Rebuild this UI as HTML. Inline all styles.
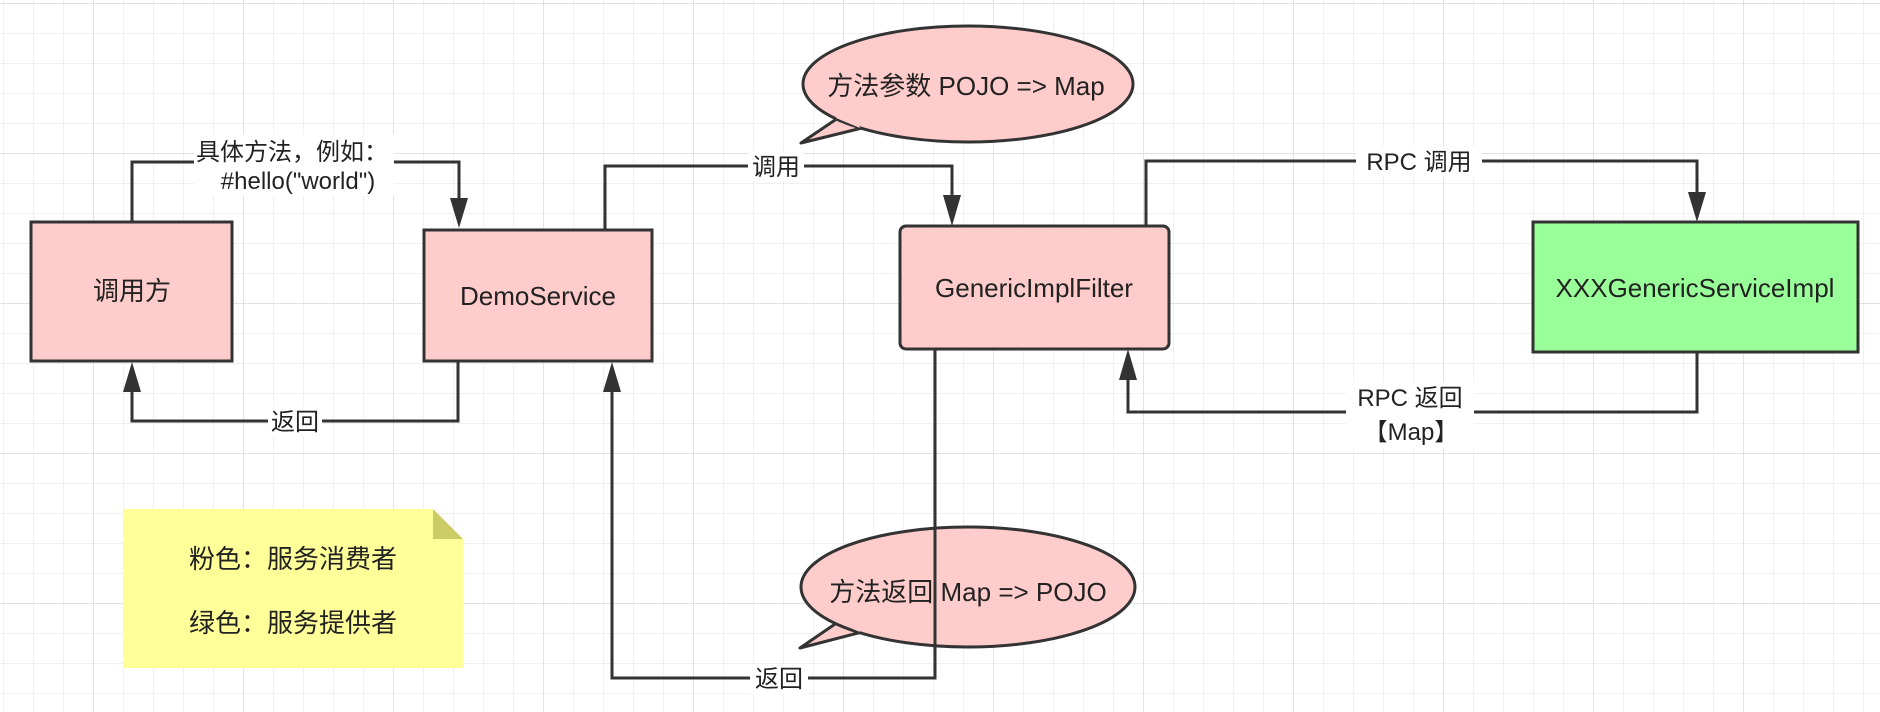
<!DOCTYPE html>
<html><head><meta charset="utf-8"><style>
html,body{margin:0;padding:0;background:#fff;}
svg{display:block;}
text{font-family:"Liberation Sans","Noto Sans CJK SC",sans-serif;fill:#222;}
</style></head><body>
<svg width="1880" height="712" viewBox="0 0 1880 712" xmlns="http://www.w3.org/2000/svg">
<defs>
<pattern id="g" width="30" height="30" patternUnits="userSpaceOnUse" x="3" y="3">
<path d="M0 0H30M0 0V30" stroke="#ebebeb" stroke-width="1.5" fill="none"/>
</pattern>
<pattern id="G" width="150" height="150" patternUnits="userSpaceOnUse" x="93" y="3">
<path d="M0 0H150M0 0V150" stroke="#e2e2e2" stroke-width="2" fill="none"/>
</pattern>
</defs>
<rect width="1880" height="712" fill="url(#g)"/>
<rect width="1880" height="712" fill="url(#G)"/>

<g stroke="#333" stroke-width="3" fill="none">
<path d="M132 221V162H459V202"/>
<path d="M458 361V421H132V388"/>
<path d="M605 229V166H952V198"/>
<path d="M1146 225V161H1697V196"/>
<path d="M1697 352V412H1128V376"/>
</g>

<rect x="31" y="222" width="201" height="139" fill="#ffcccc" stroke="#333" stroke-width="3"/>
<rect x="424" y="230" width="228" height="131" fill="#ffcccc" stroke="#333" stroke-width="3"/>
<rect x="900" y="226" width="269" height="123" rx="6" fill="#ffcccc" stroke="#333" stroke-width="3"/>
<rect x="1533" y="222" width="325" height="130" fill="#99ff99" stroke="#333" stroke-width="3"/>

<!-- top bubble -->
<path d="M838 118 L801 143 L862 128 Z" fill="#ffcccc" stroke="#333" stroke-width="3" stroke-linejoin="round"/>
<ellipse cx="968" cy="84" rx="165" ry="58" fill="#ffcccc" stroke="#333" stroke-width="3"/>
<path d="M836 118 L860 128 L858 122 L840 114 Z" fill="#ffcccc"/>

<!-- bottom bubble -->
<path d="M838 622 L800 648 L862 632 Z" fill="#ffcccc" stroke="#333" stroke-width="3" stroke-linejoin="round"/>
<ellipse cx="968" cy="587" rx="167" ry="60" fill="#ffcccc" stroke="#333" stroke-width="3"/>
<path d="M836 622 L860 632 L858 626 L840 618 Z" fill="#ffcccc"/>

<path d="M935 349V678H612V388" stroke="#333" stroke-width="3" fill="none"/>

<g fill="#333">
<path d="M450 198H468L459 228Z"/>
<path d="M123 392H141L132 362Z"/>
<path d="M943 195H961L952 226Z"/>
<path d="M1688 192H1706L1697 222Z"/>
<path d="M1119 380H1137L1128 349Z"/>
<path d="M603 392H621L612 362Z"/>
</g>

<path d="M123 509H433L463 539V668H123Z" fill="#ffff99"/>
<path d="M433 509L463 539H433Z" fill="#cccc66"/>

<g fill="#fff">
<rect x="194" y="134" width="200" height="62"/>
<rect x="268" y="406" width="54" height="30"/>
<rect x="748" y="151" width="56" height="30"/>
<rect x="1356" y="146" width="126" height="30"/>
<rect x="1346" y="382" width="128" height="66"/>
<rect x="750" y="664" width="58" height="30"/>
</g>

<g font-size="24" text-anchor="middle">
<text x="292" y="160">具体方法，例如：</text>
<text x="298" y="189">#hello("world")</text>
<text x="295" y="430">返回</text>
<text x="776" y="175">调用</text>
<text x="1419" y="170">RPC 调用</text>
<text x="1410" y="406">RPC 返回</text>
<text x="1411" y="440">【Map】</text>
<text x="779" y="687">返回</text>
</g>
<g font-size="26" text-anchor="middle">
<text x="132" y="300">调用方</text>
<text x="538" y="305">DemoService</text>
<text x="1034" y="297">GenericImplFilter</text>
<text x="1695" y="297">XXXGenericServiceImpl</text>
</g>
<g font-size="26" text-anchor="middle">
<text x="966" y="95">方法参数 POJO =&gt; Map</text>
<text x="968" y="601">方法返回 Map =&gt; POJO</text>
</g>
<g font-size="26">
<text x="189" y="568">粉色：服务消费者</text>
<text x="189" y="632">绿色：服务提供者</text>
</g>
</svg>
</body></html>
